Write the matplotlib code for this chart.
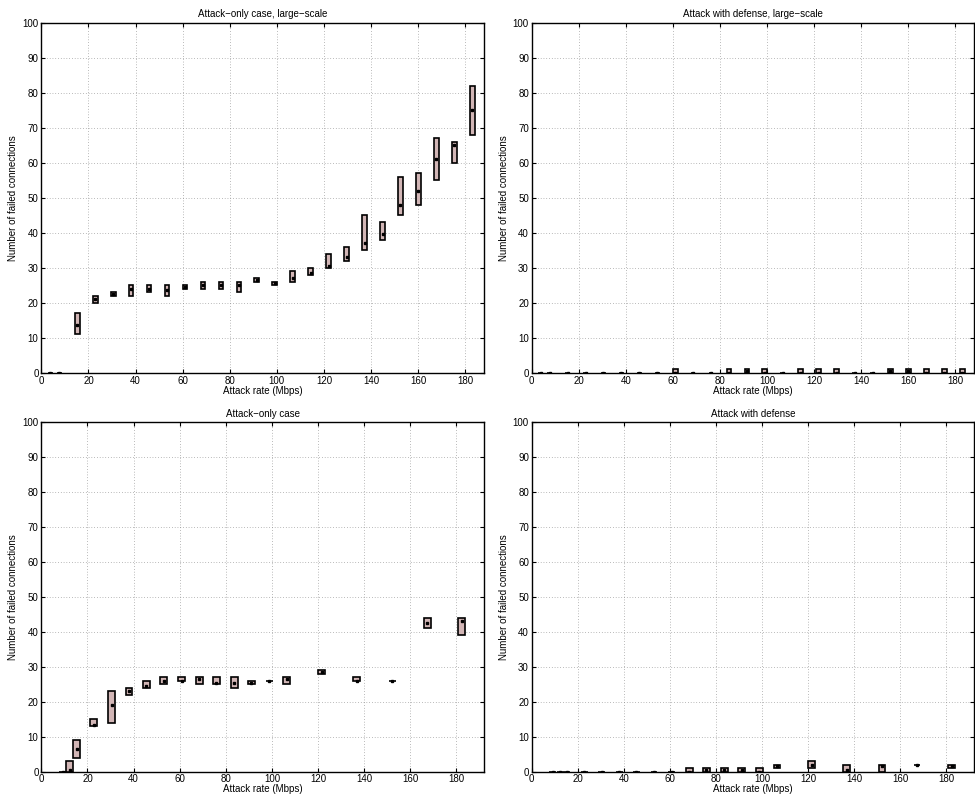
import matplotlib
matplotlib.use('Agg')
import matplotlib.pyplot as plt
from matplotlib import rcParams

rcParams['font.family'] = ['Liberation Sans', 'DejaVu Sans']
rcParams['font.size'] = 7

# ---- data: box q1 / q3 / median per attack rate ----
x_large = [3.8, 7.6, 15.25, 22.9, 30.5, 38.1, 45.75, 53.4, 61.0, 68.6, 76.25, 83.9, 91.5,
           99.1, 106.75, 114.4, 122.0, 129.6, 137.25, 144.9, 152.5, 160.1, 167.75, 175.4, 183.0]
q1_tl = [0, 0, 11, 20, 22, 22, 23, 22, 24, 24, 24, 23, 26, 25, 26, 28, 30, 32, 35, 38, 45, 48, 55, 60, 68]
q3_tl = [0, 0, 17, 22, 23, 25, 25, 25, 25, 26, 26, 26, 27, 26, 29, 30, 34, 36, 45, 43, 56, 57, 67, 66, 82]
med_tl = [0, 0, 13.5, 21, 22.5, 24, 24, 23.5, 24.5, 25, 25, 25, 26.5, 25.5, 27, 28.5, 30.5, 33, 37,
          39.5, 48, 52, 61, 65, 75]

q1_tr = [0] * 25
q3_tr = [0, 0, 0, 0, 0, 0, 0, 0, 1, 0, 0, 1, 1, 1, 0, 1, 1, 1, 0, 0, 1, 1, 1, 1, 1]
med_tr = [0, 0, 0, 0, 0, 0, 0, 0, 0, 0, 0, 0, 0.5, 0, 0, 0, 0, 0, 0, 0, 0.5, 0.5, 0, 0, 0]

x_small = [9.2, 12.3, 15.3, 22.8, 30.5, 38.0, 45.5, 53.1, 60.9, 68.4, 75.9, 83.6, 91.1,
           98.9, 106.5, 121.5, 136.8, 152.1, 167.3, 182.4]
q1_bl = [0, 0, 4, 13, 14, 22, 24, 25, 26, 25, 25, 24, 25, 26, 25, 28, 26, 26, 41, 39]
q3_bl = [0, 3, 9, 15, 23, 24, 26, 27, 27, 27, 27, 27, 26, 26, 27, 29, 27, 26, 44, 44]
med_bl = [0, 0.5, 6.5, 13.5, 19, 23, 24.5, 26, 26, 26.5, 25.5, 25.5, 25.5, 26, 26.5, 28.5, 26, 26, 42.5, 43]

q1_br = [0, 0, 0, 0, 0, 0, 0, 0, 0, 0, 0, 0, 0, 0, 1, 1, 0, 0, 2, 1]
q3_br = [0, 0, 0, 0, 0, 0, 0, 0, 0, 1, 1, 1, 1, 1, 2, 3, 2, 2, 2, 2]
med_br = [0, 0, 0, 0, 0, 0, 0, 0, 0, 0, 0.5, 0.5, 0.5, 0, 1.5, 2, 0.5, 1.5, 2, 1.5]

titles = ['Attack\u2212only case, large\u2212scale', 'Attack with defense, large\u2212scale',
          'Attack\u2212only case', 'Attack with defense']

panels = [
    (x_large, q1_tl, q3_tl, med_tl, 188, 2.0),
    (x_large, q1_tr, q3_tr, med_tr, 188, 2.0),
    (x_small, q1_bl, q3_bl, med_bl, 192, 3.0),
    (x_small, q1_br, q3_br, med_br, 192, 3.0),
]

fig = plt.figure(figsize=(9.75, 7.99), dpi=100)
fig.set_facecolor('white')

# axes rectangles in figure fractions
rects = [
    [0.0424, 0.5335, 0.4541, 0.4381],
    [0.5453, 0.5335, 0.4536, 0.4381],
    [0.0424, 0.0342, 0.4541, 0.4373],
    [0.5453, 0.0342, 0.4536, 0.4373],
]

box_color = '#d2b6b6'

for k in range(4):
    xs, q1, q3, med, xmax, w = panels[k]
    ax = fig.add_axes(rects[k])
    heights = [b - a for a, b in zip(q1, q3)]
    ax.bar(xs, heights, bottom=q1, width=w, color=box_color, edgecolor='black',
           linewidth=1.2, zorder=3)
    ax.plot(xs, med, linestyle='none', marker='s', markersize=1.6, color='black', zorder=4)

    ax.set_xlim(0, xmax)
    ax.set_ylim(0, 100)
    ax.set_xticks(range(0, 181, 20))
    ax.set_yticks(range(0, 101, 10))
    ax.grid(True, linestyle=(0, (1, 3)), linewidth=0.5, color='#7a7a7a', zorder=0)
    ax.tick_params(direction='in', length=3, width=0.8, top=True, right=True,
                   pad=2, labelsize=7)
    for spine in ax.spines.values():
        spine.set_linewidth(1.0)
    ax.set_title(titles[k], fontsize=7, pad=4)
    ax.set_xlabel('Attack rate (Mbps)', fontsize=7, labelpad=0)
    ax.set_ylabel('Number of failed connections', fontsize=7, labelpad=3)

plt.savefig('out.png', dpi=100, facecolor='white')
plt.close(fig)
